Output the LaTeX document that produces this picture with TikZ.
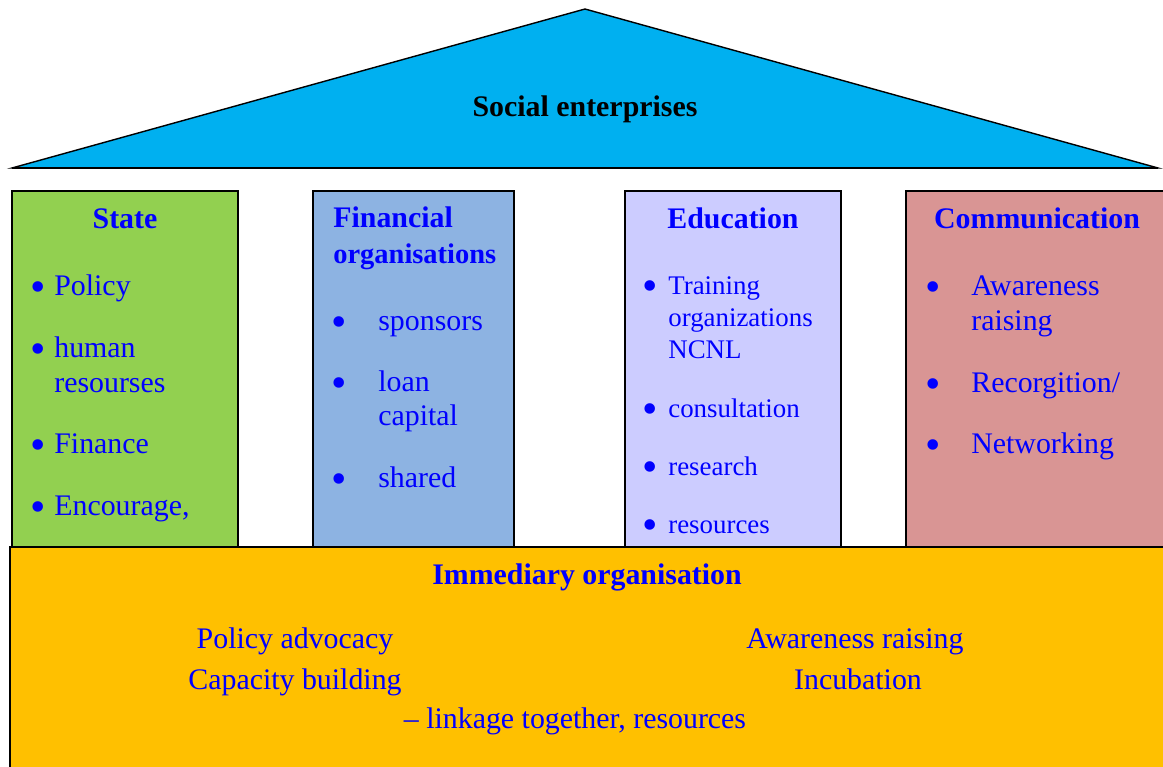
\documentclass[tikz,border=0pt]{standalone}
\usepackage{fontspec}
\setmainfont{Liberation Serif}
\usetikzlibrary{positioning}
\definecolor{roofblue}{HTML}{00B0F0}
\definecolor{stategreen}{HTML}{92D050}
\definecolor{finblue}{HTML}{8DB3E2}
\definecolor{edulilac}{HTML}{CCCCFF}
\definecolor{comrose}{HTML}{D99594}
\definecolor{baseorange}{HTML}{FFC000}
\definecolor{txtblue}{HTML}{0000FF}

\begin{document}
\begin{tikzpicture}[x=0.02cm,y=-0.02cm]
\tikzstyle{pillar} = [draw=black, line width=0.8pt]
\tikzstyle{head} = [font=\fontsize{17}{20}\selectfont\bfseries, text=txtblue, anchor=mid, inner sep=0pt, yshift=-0.1cm]
\tikzstyle{item} = [font=\fontsize{17}{20}\selectfont, text=txtblue, anchor=mid west, inner sep=0pt, yshift=-0.1cm]
\tikzstyle{smallitem} = [item, font=\fontsize{15.3}{18}\selectfont]
\tikzstyle{dot} = [font=\fontsize{25}{28}\selectfont, text=txtblue, inner sep=0pt, yshift=-0.12cm]
\tikzstyle{plain} = [font=\fontsize{17}{20}\selectfont, text=txtblue, anchor=mid, inner sep=0pt, yshift=-0.1cm]

\clip (0,0) rectangle (1163,767);

% roof
\filldraw[fill=roofblue, draw=black, line width=0.8pt] (12,168) -- (585,9) -- (1158,168) -- cycle;
\draw[line width=1.3pt] (12,168) -- (1158,168);
\node[head, text=black] (roof) at (585,107) {Social enterprises};

% pillars
\filldraw[pillar, fill=stategreen] (12,191) rectangle (238,547);
\filldraw[pillar, fill=finblue] (313,191) rectangle (514,547);
\filldraw[pillar, fill=edulilac] (625,191) rectangle (841,547);
\filldraw[pillar, fill=comrose] (906,191) rectangle (1180,547);

% State
\node[head] (state) at (125,219) {State};
\node[dot] (sb1) at (38,286) {•};
\node[item] (policy) at (54,286) {Policy};
\node[dot] (sb2) at (38,348) {•};
\node[item] (human) at (54,348) {human};
\node[item] (resourses) at (54,383) {resourses};
\node[dot] (sb3) at (38,444) {•};
\node[item] (finance) at (54,444) {Finance};
\node[dot] (sb4) at (38,506) {•};
\node[item] (encourage) at (54,506) {Encourage,};

% Financial organisations
\node[head, anchor=mid west] (fin) at (333,218) {Financial};
\node[head, anchor=mid west, font=\fontsize{16.2}{20}\selectfont\bfseries] (finorg) at (333,254) {organisations};
\node[dot] (fb1) at (339,321) {•};
\node[item] (sponsors) at (378,321) {sponsors};
\node[dot] (fb2) at (339,382) {•};
\node[item] (loan) at (378,382) {loan};
\node[item] (capital) at (378,416) {capital};
\node[dot] (fb3) at (339,478) {•};
\node[item] (shared) at (378,478) {shared};

% Education
\node[head] (edu) at (733,219) {Education};
\node[dot] (eb1) at (650,285) {•};
\node[smallitem] (training) at (668,285) {Training};
\node[smallitem] (trainorg) at (668,317) {organizations};
\node[smallitem] (ncnl) at (668,349) {NCNL};
\node[dot] (eb2) at (650,408) {•};
\node[smallitem] (consult) at (668,408) {consultation};
\node[dot] (eb3) at (650,466) {•};
\node[smallitem] (research) at (668,466) {research};
\node[dot] (eb4) at (650,524) {•};
\node[smallitem] (eduresources) at (668,524) {resources};

% Communication
\node[head] (comm) at (1037,219) {Communication};
\node[dot] (cb1) at (933,286) {•};
\node[item] (awareness) at (971,286) {Awareness};
\node[item] (raising) at (971,321) {raising};
\node[dot] (cb2) at (933,383) {•};
\node[item] (recog) at (971,383) {Recorgition/};
\node[dot] (cb3) at (933,444) {•};
\node[item] (network) at (971,444) {Networking};

% foundation
\filldraw[pillar, fill=baseorange] (10,547) rectangle (1180,780);
\node[head] (immediary) at (587,575) {Immediary organisation};
\node[plain] (advocacy) at (295,639) {Policy advocacy};
\node[plain] (capacity) at (295,680) {Capacity building};
\node[plain] (awareraise) at (855,639) {Awareness raising};
\node[plain] (incubation) at (858,680) {Incubation};
\node[plain] (linkage) at (575,719) {– linkage together, resources};
\end{tikzpicture}
\end{document}
